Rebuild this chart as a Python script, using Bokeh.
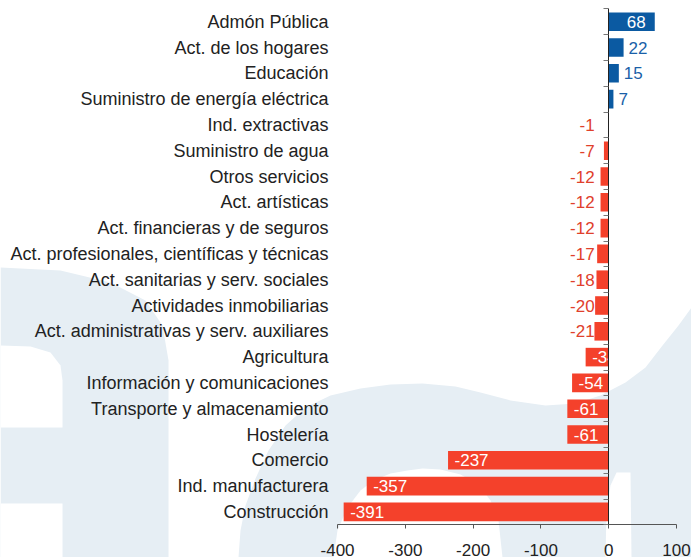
from bokeh.plotting import figure
from bokeh.models import Range1d, LinearAxis, FixedTicker, ColumnDataSource
from bokeh.core.properties import value
from bokeh.embed import file_html
from bokeh.resources import INLINE

# ---------------- data ----------------
categories = [
    "Admón Pública", "Act. de los hogares", "Educación",
    "Suministro de energía eléctrica", "Ind. extractivas", "Suministro de agua",
    "Otros servicios", "Act. artísticas", "Act. financieras y de seguros",
    "Act. profesionales, científicas y técnicas", "Act. sanitarias y serv. sociales",
    "Actividades inmobiliarias", "Act. administrativas y serv. auxiliares",
    "Agricultura", "Información y comunicaciones", "Transporte y almacenamiento",
    "Hostelería", "Comercio", "Ind. manufacturera", "Construcción",
]
values = [68, 22, 15, 7, -1, -7, -12, -12, -12, -17, -18, -20, -21, -34,
          -54, -61, -61, -237, -357, -391]
x_ticks = [-400, -300, -200, -100, 0, 100]

# ---------------- styling ----------------
FONT = "Liberation Sans"
BLUE = "#0b5aa2"
BLUE_TXT = "#1a5fa8"
RED = "#f4412b"
RED_TXT = "#e0402c"
TXT = "#222222"
WM = "#e6eef4"

W, H = 691, 557
n = len(categories)
ys = [n - i - 0.5 for i in range(n)]

p = figure(width=W, height=H, output_backend="svg", toolbar_location=None,
           x_range=Range1d(-897.3, 122.2), y_range=Range1d(-1.267, 20.322),
           x_axis_location=None, y_axis_location=None,
           min_border=0, min_border_left=0, min_border_right=0,
           min_border_top=0, min_border_bottom=0)
p.outline_line_color = None
p.xgrid.visible = False
p.ygrid.visible = False
p.background_fill_color = "white"
p.border_fill_color = "white"

# ---------------- watermark (decorative background) ----------------
p.extra_x_ranges = {"px": Range1d(0, W)}
p.extra_y_ranges = {"py": Range1d(H, 0)}
wm_light = [
    ([0, 60, 110, 145, 162, 168, 168, 0],
     [267, 270, 282, 300, 325, 360, 557, 557]),
    ([238, 240, 245, 255, 268, 285, 305, 330, 360, 390, 422, 455, 480, 510, 545,
      575, 600, 625, 645, 662, 678, 691, 691],
     [557, 530, 505, 478, 450, 425, 407, 395, 388, 384, 383, 386, 392, 400, 405,
      403, 395, 382, 367, 345, 325, 307, 557]),
]
wm_white = [
    ([0, 30, 50, 60, 62, 62, 0], [345, 346, 352, 365, 380, 427, 427]),
    ([0, 62, 62, 0], [503, 503, 557, 557]),
    ([333, 337, 347, 360, 373, 390, 407, 422, 440, 460, 478, 490, 498, 502],
     [557, 530, 507, 490, 480, 473, 470, 468, 469, 474, 484, 500, 520, 557]),
    ([605, 606, 610, 616, 630, 631], [557, 510, 485, 472, 472, 557]),
]
p.patches([s[0] for s in wm_light], [s[1] for s in wm_light], fill_color=WM,
          line_color=None, x_range_name="px", y_range_name="py")
p.patches([s[0] for s in wm_white], [s[1] for s in wm_white], fill_color="white",
          line_color=None, x_range_name="px", y_range_name="py")

# ---------------- bars ----------------
colors = [BLUE if v > 0 else RED for v in values]
src = ColumnDataSource(dict(y=ys, v=values, c=colors, cat=categories,
                            lab=[str(v) for v in values]))
p.hbar(y="y", left=0, right="v", height=0.72, fill_color="c", line_color=None,
       source=src)

# ---------------- category labels ----------------
p.text(x=[-400] * n, y=ys, text=categories, text_align="right",
       text_baseline="middle", x_offset=-9, text_font=value(FONT),
       text_font_size="18px", text_color=TXT)

# ---------------- value labels ----------------
def sub(cond):
    idx = [i for i, v in enumerate(values) if cond(v)]
    return ColumnDataSource(dict(x=[values[i] for i in idx], y=[ys[i] for i in idx],
                                 z=[0] * len(idx), t=[str(values[i]) for i in idx]))

common = dict(text="t", y="y", text_baseline="middle", text_font=value(FONT),
              text_font_size="17px")
p.text(x="x", source=sub(lambda v: v >= 30), text_align="right", x_offset=-9,
       text_color="white", **common)
p.text(x="x", source=sub(lambda v: 0 < v < 30), text_align="left", x_offset=5,
       text_color=BLUE_TXT, **common)
p.text(x="z", source=sub(lambda v: -30 < v < 0), text_align="right", x_offset=-14,
       text_color=RED_TXT, **common)
p.text(x="x", source=sub(lambda v: v <= -30), text_align="left", x_offset=6.5,
       text_color="white", **common)

# ---------------- axes ----------------
xaxis = LinearAxis(fixed_location=0, bounds=(x_ticks[0], x_ticks[-1]),
                   ticker=FixedTicker(ticks=x_ticks, minor_ticks=[]))
xaxis.major_label_overrides = {t: str(t) for t in x_ticks}
xaxis.axis_line_color = "#555555"
xaxis.major_tick_line_color = "#555555"
xaxis.major_tick_out = 4
xaxis.major_tick_in = 0
xaxis.minor_tick_out = 0
xaxis.minor_tick_in = 0
xaxis.major_label_standoff = 15
xaxis.major_label_text_font = FONT
xaxis.major_label_text_font_size = "17px"
xaxis.major_label_text_color = TXT
p.add_layout(xaxis, "below")

yaxis = LinearAxis(fixed_location=0, bounds=(0, n),
                   ticker=FixedTicker(ticks=list(range(n + 1)), minor_ticks=[]))
yaxis.axis_line_color = "#222222"
yaxis.major_tick_line_color = "#777777"
yaxis.major_tick_out = 5
yaxis.major_tick_in = 0
yaxis.minor_tick_out = 0
yaxis.minor_tick_in = 0
yaxis.major_label_text_font_size = "0px"
yaxis.major_label_text_alpha = 0
p.add_layout(yaxis, "left")

open("out.html", "w").write(file_html(p, INLINE))
